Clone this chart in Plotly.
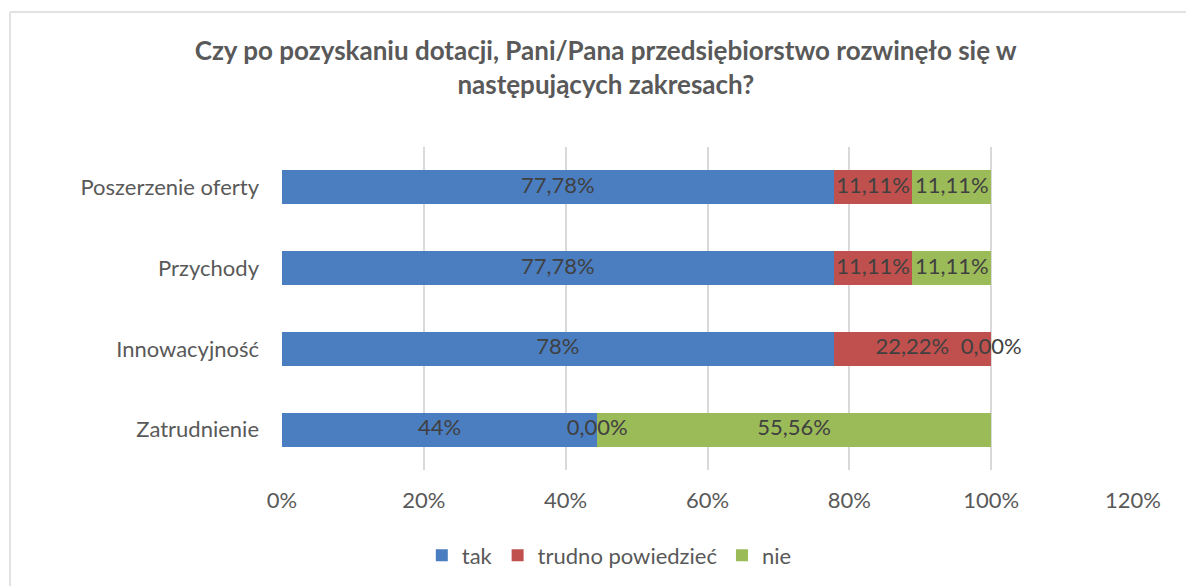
import plotly.graph_objects as go

# categories listed top to bottom as in the chart
categories = ["Poszerzenie oferty", "Przychody", "Innowacyjność", "Zatrudnienie"]
series_names = ["tak", "trudno powiedzieć", "nie"]
tak = [77.78, 77.78, 77.78, 44.44]
trudno = [11.11, 11.11, 22.22, 0.00]
nie = [11.11, 11.11, 0.00, 55.56]
tak_labels = ["77,78%", "77,78%", "78%", "44%"]
trudno_labels = ["11,11%", "11,11%", "22,22%", "0,00%"]
nie_labels = ["11,11%", "11,11%", "0,00%", "55,56%"]
x_ticks = [0, 20, 40, 60, 80, 100, 120]
x_tick_labels = ["0%", "20%", "40%", "60%", "80%", "100%", "120%"]

colors = ["#4A7EC0", "#C0504D", "#9BBB59"]
FONT = "Lato, 'Noto Sans', sans-serif"

fig = go.Figure()
values = [tak, trudno, nie]
labels = [tak_labels, trudno_labels, nie_labels]
start = [0.0] * len(categories)
for name, vals, txt, col in zip(series_names, values, labels, colors):
    fig.add_trace(go.Bar(y=categories, x=vals, name=name, orientation="h",
                         marker=dict(color=col, line=dict(width=0))))
    mids = [s + v / 2 for s, v in zip(start, vals)]
    fig.add_trace(go.Scatter(y=categories, x=mids, mode="text", text=txt,
                             textfont=dict(family=FONT, size=22, color="#404040"),
                             showlegend=False, hoverinfo="skip"))
    start = [s + v for s, v in zip(start, vals)]

# chart frame (left and top edges visible)
fig.add_shape(type="line", xref="paper", yref="paper", x0=-0.3196, x1=-0.3196, y0=-0.5, y1=1.418,
              line=dict(color="#D9D9D9", width=1.5))
fig.add_shape(type="line", xref="paper", yref="paper", x0=-0.3196, x1=1.2, y0=1.418, y1=1.418,
              line=dict(color="#D9D9D9", width=1.5))

# page has an 8px body margin, so the figure is a bit smaller than the window
fig.update_layout(
    width=1186, height=578,
    barmode="stack", bargap=0.58,
    plot_bgcolor="white", paper_bgcolor="white",
    margin=dict(l=274, r=61, t=139, b=116),
    title=dict(text="<b>Czy po pozyskaniu dotacji, Pani/Pana przedsiębiorstwo rozwinęło się w<br>następujących zakresach?</b>",
               x=0.504, xanchor="center", y=0.91, yanchor="middle",
               font=dict(family=FONT, size=26, color="#595959")),
    xaxis=dict(range=[0, 120], tickvals=x_ticks, ticktext=x_tick_labels, showgrid=True,
               gridcolor="#D9D9D9", gridwidth=1.5, zeroline=False, showline=False,
               tickfont=dict(family=FONT, size=22, color="#595959"), ticklabelstandoff=15),
    yaxis=dict(categoryorder="array", categoryarray=categories, autorange="reversed",
               showgrid=False, zeroline=False, showline=False,
               tickfont=dict(family=FONT, size=22, color="#595959"), ticklabelstandoff=22),
    legend=dict(orientation="h", xref="container", yref="container", x=0.507, xanchor="center",
                y=0.053, yanchor="middle", font=dict(family=FONT, size=22, color="#595959"),
                itemwidth=30, traceorder="normal"),
    showlegend=True,
)
fig.write_html("out.html")
